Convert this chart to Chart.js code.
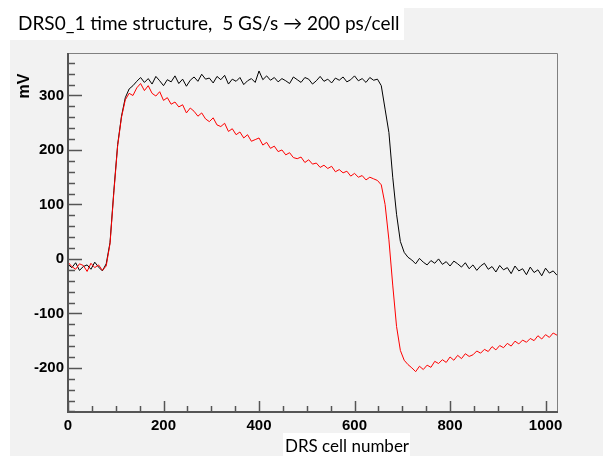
<!DOCTYPE html>
<html lang="en">
<head>
    <meta charset="UTF-8">
    <title>DRS0_1 time structure</title>
    <script src="https://cdn.jsdelivr.net/npm/chart.js"></script>
    <style>
        body {
            margin: 0;
            padding: 0;
            background-color: #ffffff;
        }
        #chart {
            display: block;
        }
    </style>
</head>
<body>
    <canvas id="chart" width="603" height="456"></canvas>

    <script>
        // DRS cell index (every 8th cell)
        const cells = [
            0, 8, 16, 24, 32, 40, 48, 56, 64, 72, 80, 88, 96, 104, 112, 120,
            128, 136, 144, 152, 160, 168, 176, 184, 192, 200, 208, 216, 224, 232, 240, 248,
            256, 264, 272, 280, 288, 296, 304, 312, 320, 328, 336, 344, 352, 360, 368, 376,
            384, 392, 400, 408, 416, 424, 432, 440, 448, 456, 464, 472, 480, 488, 496, 504,
            512, 520, 528, 536, 544, 552, 560, 568, 576, 584, 592, 600, 608, 616, 624, 632,
            640, 648, 656, 664, 672, 680, 688, 696, 704, 712, 720, 728, 736, 744, 752, 760,
            768, 776, 784, 792, 800, 808, 816, 824, 832, 840, 848, 856, 864, 872, 880, 888,
            896, 904, 912, 920, 928, 936, 944, 952, 960, 968, 976, 984, 992, 1000, 1008, 1016,
            1024
        ];

        // black trace (mV)
        const blackMv = [
            -10, -16, -7, -21, -14, -11, -19, -6, -15, -22, -9, 30, 125, 210, 262, 296,
            312, 318, 326, 333, 324, 331, 321, 335, 327, 318, 329, 325, 336, 322, 330, 317,
            328, 334, 326, 339, 330, 332, 323, 335, 329, 337, 321, 330, 326, 333, 320, 327,
            331, 324, 345, 329, 336, 328, 333, 325, 331, 327, 322, 334, 329, 324, 333, 330,
            321, 327, 335, 326, 330, 323, 332, 328, 334, 325, 329, 336, 327, 331, 324, 333,
            328, 330, 318, 275, 232, 150, 82, 32, 12, 3, -2, -9, 1, -6, -11, -3,
            -8, 0, -10, -5, -13, -4, -9, -15, -7, -18, -11, -21, -13, -8, -19, -14,
            -24, -12, -20, -16, -27, -13, -22, -18, -29, -15, -25, -20, -31, -17, -26, -22,
            -30
        ];

        // red trace (mV)
        const redMv = [
            -6, -14, -19, -9, -12, -23, -8, -16, -11, -21, -13, 28, 122, 208, 260, 292,
            304, 300, 314, 322, 309, 318, 304, 299, 307, 291, 296, 284, 288, 279, 283, 268,
            277, 271, 262, 268, 257, 252, 259, 246, 243, 249, 234, 239, 228, 233, 222, 228,
            216, 219, 222, 209, 214, 203, 207, 197, 200, 191, 195, 186, 184, 187, 177, 182,
            174, 176, 168, 172, 166, 170, 160, 164, 158, 161, 152, 157, 150, 153, 145, 150,
            147, 144, 136, 100, 35, -48, -124, -168, -186, -194, -200, -207, -197, -203, -195, -199,
            -188, -192, -185, -190, -180, -186, -177, -183, -174, -179, -176, -169, -173, -166, -170, -161,
            -167, -159, -163, -155, -160, -151, -156, -149, -153, -146, -150, -141, -147, -139, -144, -136,
            -140
        ];

        const xTicks = [0, 200, 400, 600, 800, 1000];
        const yTicks = [-200, -100, 0, 100, 200, 300];

        const tickFont = { family: 'Liberation Sans, Arial, sans-serif', size: 15, weight: 'bold' };

        // page background, white label boxes, frame, inward ticks and texts (ROOT style)
        const rootStyle = {
            id: 'rootStyle',
            beforeDraw(chart) {
                const ctx = chart.ctx;
                ctx.save();
                ctx.fillStyle = '#ffffff';
                ctx.fillRect(0, 0, chart.width, chart.height);
                ctx.fillStyle = '#f2f2f2';
                ctx.fillRect(10, 8, chart.width - 10, chart.height - 8);
                ctx.fillStyle = '#ffffff';
                ctx.fillRect(10, 0, 394, 40);
                ctx.fillRect(283, 433, 127, 23);
                ctx.restore();
            },
            afterDraw(chart) {
                const ctx = chart.ctx;
                const a = chart.chartArea;
                const xs = chart.scales.x;
                const ys = chart.scales.y;
                ctx.save();

                // frame
                ctx.strokeStyle = '#808080';
                ctx.lineWidth = 1;
                ctx.beginPath();
                ctx.moveTo(a.left, a.top + 0.5);
                ctx.lineTo(a.right + 0.5, a.top + 0.5);
                ctx.lineTo(a.right + 0.5, a.bottom);
                ctx.stroke();

                ctx.strokeStyle = '#555555';
                ctx.lineWidth = 2;
                ctx.beginPath();
                ctx.moveTo(a.left, a.top);
                ctx.lineTo(a.left, a.bottom);
                ctx.lineTo(a.right + 1, a.bottom);
                ctx.stroke();

                // y ticks (inward)
                ctx.lineWidth = 1.5;
                for (let v = -280; v <= ys.max; v += 20) {
                    const py = Math.round(ys.getPixelForValue(v)) + 0.5;
                    const len = (v % 100 === 0) ? 14 : 7;
                    ctx.beginPath();
                    ctx.moveTo(a.left, py);
                    ctx.lineTo(a.left + len, py);
                    ctx.stroke();
                }
                // x ticks (inward)
                for (let v = 0; v <= xs.max; v += 50) {
                    const px = Math.round(xs.getPixelForValue(v)) + 0.5;
                    const len = (v % 200 === 0) ? 11 : 6;
                    ctx.beginPath();
                    ctx.moveTo(px, a.bottom);
                    ctx.lineTo(px, a.bottom - len);
                    ctx.stroke();
                }

                // title
                ctx.fillStyle = '#000000';
                ctx.textBaseline = 'alphabetic';
                ctx.textAlign = 'left';
                ctx.font = '19px Lato, "Open Sans", sans-serif';
                ctx.fillText('DRS0_1 time structure,  5 GS/s \u2192 200 ps/cell', 18, 30);

                // x axis title
                ctx.font = '17px Lato, "Open Sans", sans-serif';
                ctx.textAlign = 'center';
                ctx.fillText('DRS cell number', 347, 452);

                // y axis title
                ctx.font = 'bold 16px "Liberation Sans", Arial, sans-serif';
                ctx.translate(29, 86);
                ctx.rotate(-Math.PI / 2);
                ctx.textAlign = 'center';
                ctx.fillText('mV', 0, 0);

                ctx.restore();
            }
        };

        new Chart(document.getElementById('chart').getContext('2d'), {
            type: 'line',
            data: {
                datasets: [
                    {
                        label: 'red',
                        data: cells.map((c, i) => ({ x: c, y: redMv[i] })),
                        borderColor: '#ff0000',
                        borderWidth: 1,
                        pointRadius: 0,
                        tension: 0,
                        fill: false
                    },
                    {
                        label: 'black',
                        data: cells.map((c, i) => ({ x: c, y: blackMv[i] })),
                        borderColor: '#000000',
                        borderWidth: 1,
                        pointRadius: 0,
                        tension: 0,
                        fill: false
                    }
                ]
            },
            options: {
                responsive: false,
                animation: false,
                layout: { padding: { top: 53, right: 46, left: 0, bottom: 0 } },
                plugins: {
                    legend: { display: false },
                    tooltip: { enabled: false }
                },
                scales: {
                    x: {
                        type: 'linear',
                        min: 0,
                        max: 1024,
                        grid: { display: false, drawTicks: false },
                        border: { display: false },
                        ticks: {
                            font: tickFont, color: '#000000', padding: 5, maxRotation: 0, autoSkip: false,
                            callback: v => String(v)
                        },
                        afterBuildTicks: s => { s.ticks = xTicks.map(v => ({ value: v })); },
                        afterFit: s => { s.height = 44; }
                    },
                    y: {
                        type: 'linear',
                        min: -281,
                        max: 378,
                        grid: { display: false, drawTicks: false },
                        border: { display: false },
                        ticks: {
                            font: tickFont, color: '#000000', padding: 4, autoSkip: false,
                            callback: v => String(v)
                        },
                        afterBuildTicks: s => { s.ticks = yTicks.map(v => ({ value: v })); },
                        afterFit: s => { s.width = 68; }
                    }
                }
            },
            plugins: [rootStyle]
        });
    </script>
</body>
</html>
